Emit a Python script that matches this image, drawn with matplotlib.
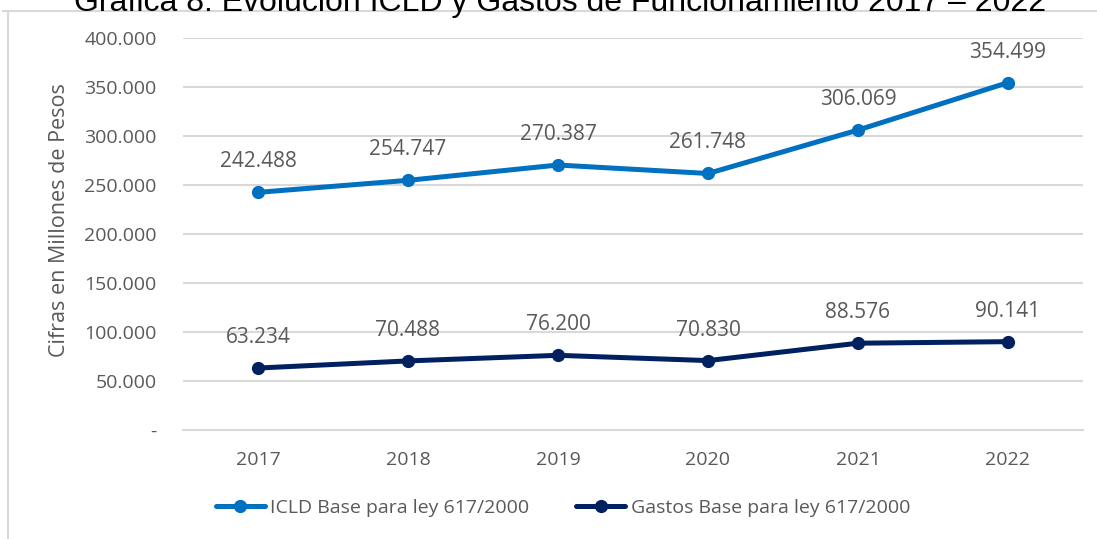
import matplotlib
matplotlib.use("Agg")
import matplotlib.pyplot as plt
from matplotlib.lines import Line2D
from matplotlib.ticker import FuncFormatter

# ---------- data ----------
years = ["2017", "2018", "2019", "2020", "2021", "2022"]
icld = [242488, 254747, 270387, 261748, 306069, 354499]
gastos = [63234, 70488, 76200, 70830, 88576, 90141]
icld_name = "ICLD Base para ley 617/2000"
gastos_name = "Gastos Base para ley 617/2000"
title = "Gráfica 8. Evolución ICLD y Gastos de Funcionamiento 2017 – 2022"
ylabel = "Cifras en Millones de Pesos"

W, H, DPI = 1097, 539, 100
BLUE = "#0070C0"
NAVY = "#002060"
GRID = "#D9D9D9"
TXT = "#595959"

plt.rcParams["font.family"] = ["Open Sans", "DejaVu Sans"]


def thousands(v, _pos=None):
    if v == 0:
        return "-"
    return f"{v:,.0f}".replace(",", ".")


fig = plt.figure(figsize=(W / DPI, H / DPI), dpi=DPI)
ax = fig.add_axes([183 / W, 1 - 430 / H, 900 / W, 392 / H])

x = list(range(len(years)))
for vals, col, name in [(icld, BLUE, icld_name), (gastos, NAVY, gastos_name)]:
    ax.plot(x, vals, color=col, lw=3.6, marker="o", ms=8.5, label=name,
            solid_capstyle="round", zorder=3)
    for xi, v in zip(x, vals):
        ax.annotate(thousands(v), (xi, v), xytext=(0, 22), textcoords="offset points",
                    ha="center", va="center", fontsize=15, color=TXT)

ax.set_xlim(-0.5, len(years) - 0.5)
ax.set_ylim(0, 400000)
ax.set_yticks(range(0, 400001, 50000))
ax.yaxis.set_major_formatter(FuncFormatter(thousands))
ax.set_xticks(x)
ax.set_xticklabels(years)
ax.grid(axis="y", color=GRID, lw=1.5)
ax.set_axisbelow(True)
for s in ["top", "right", "left"]:
    ax.spines[s].set_visible(False)
ax.spines["bottom"].set_color(GRID)
ax.spines["bottom"].set_linewidth(1.5)
ax.tick_params(axis="both", length=0, labelsize=14, labelcolor=TXT)
ax.tick_params(axis="y", pad=19)
ax.tick_params(axis="x", pad=15)
ax.set_ylabel(ylabel, fontsize=15.5, color=TXT)
ax.yaxis.set_label_coords((70 - 183) / 900, 0.535)

# title sits half outside the image, as in the reference
fig.text(560 / W, 1 - 10.5 / H, title, ha="center", va="baseline", fontsize=23,
         color="black", family=["Liberation Sans", "DejaVu Sans"])

# light frame of the chart box
fig.add_artist(Line2D([3 / W, 1], [1 - 11 / H, 1 - 11 / H], color=GRID, lw=1.5,
                      transform=fig.transFigure))
fig.add_artist(Line2D([8 / W, 8 / W], [0, 1 - 11 / H], color=GRID, lw=1.5,
                      transform=fig.transFigure))

fig.legend(loc="center", bbox_to_anchor=(563 / W, 1 - 508 / H), ncol=2, frameon=False,
           fontsize=14, labelcolor=TXT, handlelength=2.5, handletextpad=0.3,
           columnspacing=2.4)

fig.savefig("out.png", dpi=DPI)
